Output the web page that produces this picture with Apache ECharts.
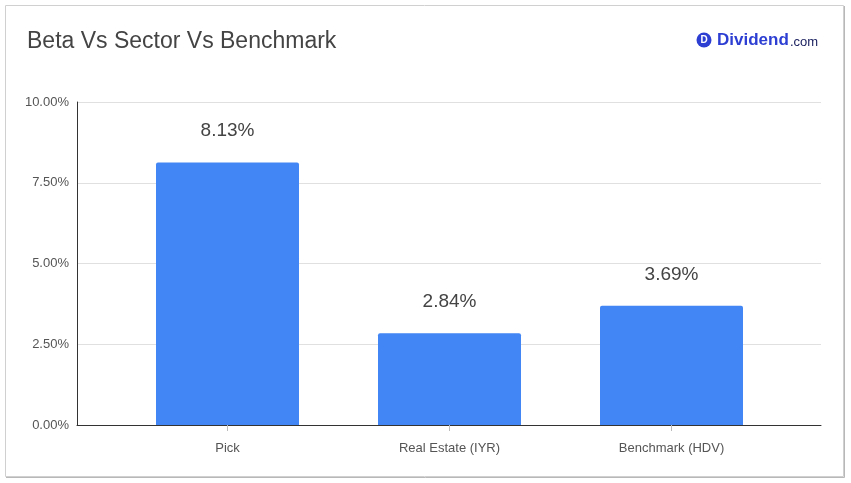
<!DOCTYPE html>
<html>
<head>
<meta charset="utf-8">
<script src="https://cdn.jsdelivr.net/npm/echarts@6/dist/echarts.min.js"></script>
<style>
  html, body { margin: 0; padding: 0; background: #fff; }
  #chart { width: 851px; height: 483px; }
</style>
</head>
<body>
<div id="chart"></div>
<script>
const categories = ['Pick', 'Real Estate (IYR)', 'Benchmark (HDV)'];
const betaValues = [8.13, 2.84, 3.69];
const yTicks = [0, 2.5, 5, 7.5, 10];

const chart = echarts.init(document.getElementById('chart'), null, { renderer: 'canvas' });

const font = 'Arial, "Liberation Sans", sans-serif';

const option = {
    animation: false,
    title: {
        text: 'Beta Vs Sector Vs Benchmark',
        left: 22,
        top: 25,
        textStyle: { fontFamily: font, fontSize: 23, fontWeight: 'normal', color: '#444' }
    },
    graphic: [
        {
            type: 'rect',
            shape: { x: 5.5, y: 5.5, width: 838, height: 471 },
            style: { fill: 'none', stroke: '#d0d0d0', lineWidth: 1 },
            z: -1
        },
        {
            type: 'polyline',
            shape: { points: [[844.5, 6], [844.5, 477.5], [6, 477.5]] },
            style: { fill: 'none', stroke: '#b8b8b8', lineWidth: 1 },
            z: -1
        },
        {
            type: 'circle',
            shape: { cx: 704, cy: 40, r: 7.5 },
            style: { fill: '#2d3fd3' }
        },
        {
            type: 'text',
            x: 704, y: 40.5,
            style: { text: 'D', fill: '#fff', font: 'bold 10px ' + font, align: 'center', verticalAlign: 'middle' }
        },
        {
            type: 'text',
            x: 717, y: 40,
            style: { text: 'Dividend', fill: '#2d3fd3', font: 'bold 17px ' + font, verticalAlign: 'middle' }
        },
        {
            type: 'text',
            x: 790, y: 42,
            style: { text: '.com', fill: '#1c2260', font: '13px ' + font, verticalAlign: 'middle' }
        }
    ],
    grid: [
        { left: 77, right: 30, top: 102, bottom: 58 },
        { left: 116.5, right: 68.5, top: 102, bottom: 58 }
    ],
    xAxis: [
        {
            gridIndex: 0,
            type: 'value',
            min: 0, max: 1,
            axisLine: { show: true, onZero: false, lineStyle: { color: '#333', width: 1 } },
            axisTick: { show: false },
            axisLabel: { show: false },
            splitLine: { show: false }
        },
        {
            gridIndex: 1,
            type: 'category',
            data: categories,
            axisLine: { show: false },
            axisTick: { show: true, alignWithLabel: true, length: 6, lineStyle: { color: '#bbb' } },
            axisLabel: { color: '#555', fontFamily: font, fontSize: 13, margin: 17 }
        }
    ],
    yAxis: [
        {
            gridIndex: 0,
            type: 'value',
            min: 0, max: 10, interval: 2.5,
            axisLine: { show: true, lineStyle: { color: '#333', width: 1 } },
            axisTick: { show: false },
            axisLabel: {
                color: '#555', fontFamily: font, fontSize: 13, margin: 8,
                formatter: (v) => v.toFixed(2) + '%'
            },
            splitLine: { lineStyle: { color: '#e0e0e0' } }
        },
        {
            gridIndex: 1,
            type: 'value',
            min: 0, max: 10, interval: 2.5,
            axisLine: { show: false },
            axisTick: { show: false },
            axisLabel: { show: false },
            splitLine: { show: false }
        }
    ],
    series: [
        {
            type: 'bar',
            xAxisIndex: 1,
            yAxisIndex: 1,
            data: betaValues,
            barWidth: 143,
            itemStyle: { color: '#4285f4', borderRadius: [2, 2, 0, 0] },
            label: {
                show: true,
                position: 'top',
                distance: 22,
                color: '#444',
                fontFamily: font,
                fontSize: 19,
                formatter: (p) => p.value.toFixed(2) + '%'
            }
        }
    ]
};

chart.setOption(option);
</script>
</body>
</html>
